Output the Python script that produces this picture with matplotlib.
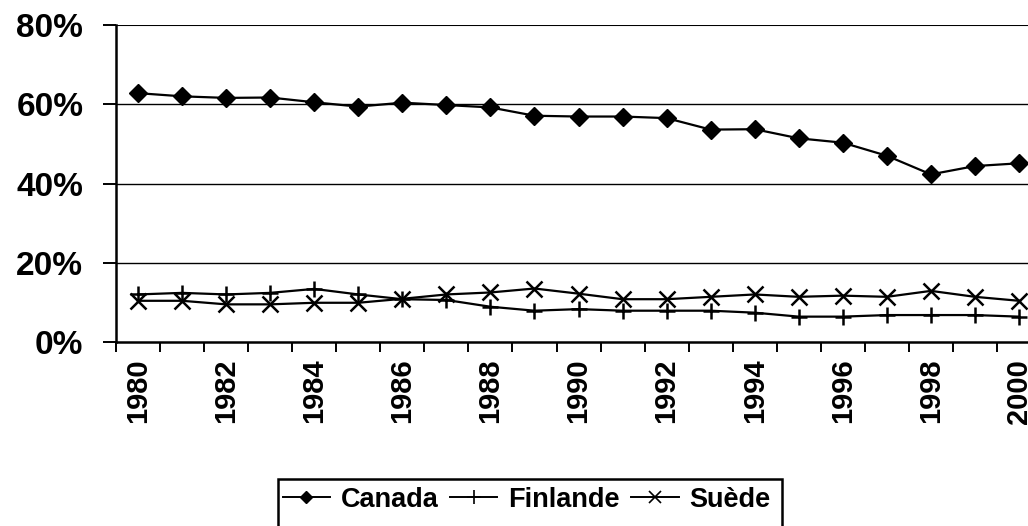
import matplotlib
matplotlib.use("Agg")
import matplotlib.pyplot as plt
from matplotlib.lines import Line2D
from matplotlib.patches import Rectangle

years = list(range(1980, 2001))
canada = [62.8, 62.0, 61.6, 61.7, 60.5, 59.4, 60.4, 59.8, 59.2, 57.1,
          56.9, 56.9, 56.5, 53.6, 53.7, 51.4, 50.3, 47.0, 42.3, 44.4, 45.1]
finlande = [12.0, 12.4, 12.0, 12.4, 13.4, 12.0, 10.8, 10.6, 8.9, 7.9,
            8.3, 7.9, 7.9, 7.9, 7.4, 6.4, 6.4, 6.8, 6.8, 6.8, 6.4]
suede = [10.4, 10.4, 9.5, 9.5, 9.9, 9.9, 10.9, 12.0, 12.5, 13.5,
         12.2, 10.8, 10.8, 11.4, 12.0, 11.4, 11.7, 11.4, 12.9, 11.4, 10.4]
series_names = ["Canada", "Finlande", "Suède"]
y_ticks = [0, 20, 40, 60, 80]

plt.rcParams['font.family'] = ['Liberation Sans', 'DejaVu Sans']

W, H = 1028, 526
fig = plt.figure(figsize=(W / 100, H / 100), dpi=100)
ax_left, ax_right = 116, 116 + 21 * 44.05
ax_top, ax_bot = 25, 342
ax = fig.add_axes([ax_left / W, 1 - ax_bot / H, (ax_right - ax_left) / W, (ax_bot - ax_top) / H])

x = list(range(len(years)))
ax.plot(x, canada, color='black', lw=1.6, marker='D', ms=9, mec='black', mfc='black', zorder=3, clip_on=False)
ax.plot(x, finlande, color='black', lw=1.6, marker='+', ms=11, mew=1.8, zorder=3, clip_on=False)
ax.plot(x, suede, color='black', lw=1.6, marker='x', ms=11, mew=1.8, zorder=3, clip_on=False)

ax.set_xlim(-0.5, len(years) - 0.5)
ax.set_ylim(0, 80)

for v in y_ticks[1:]:
    ax.axhline(v, color='black', lw=1.5 if v == 80 else 1.0, zorder=1)

for side in ['top', 'right']:
    ax.spines[side].set_visible(False)
for side in ['left', 'bottom']:
    ax.spines[side].set_linewidth(1.8)

ax.set_yticks(y_ticks)
ax.set_yticklabels([f"{v}%" for v in y_ticks], fontsize=24, fontweight='bold')
ax.tick_params(axis='y', direction='out', length=9.5, width=1.4, pad=14)

ax.set_xticks(x)
ax.set_xticklabels([str(y) if (y - 1980) % 2 == 0 else "" for y in years],
                   rotation=90, fontsize=21, fontweight='bold')
ax.tick_params(axis='x', which='major', length=0, pad=12)
ax.set_xticks([i - 0.5 for i in range(len(years) + 1)], minor=True)
ax.tick_params(axis='x', which='minor', direction='out', length=7.5, width=1.4)

handles = [
    Line2D([], [], color='black', lw=1.4, marker='D', ms=6),
    Line2D([], [], color='black', lw=1.4, marker='+', ms=10, mew=1.2),
    Line2D([], [], color='black', lw=1.4, marker='x', ms=8, mew=1.2),
]
leg = fig.legend(handles, series_names, loc='upper left',
                 bbox_to_anchor=(280 / W, 1 - 484 / H), ncol=3, frameon=False,
                 prop={'size': 19.5, 'weight': 'bold'}, handlelength=1.75,
                 handletextpad=0.4, columnspacing=0.42, borderaxespad=0, borderpad=0.1)
fig.add_artist(Rectangle((278 / W, -0.05), (782 - 278) / W, 0.05 + (1 - 479 / H),
                         transform=fig.transFigure, fill=False, lw=1.8, ec='black', clip_on=False))

fig.savefig("out.png", dpi=100)
